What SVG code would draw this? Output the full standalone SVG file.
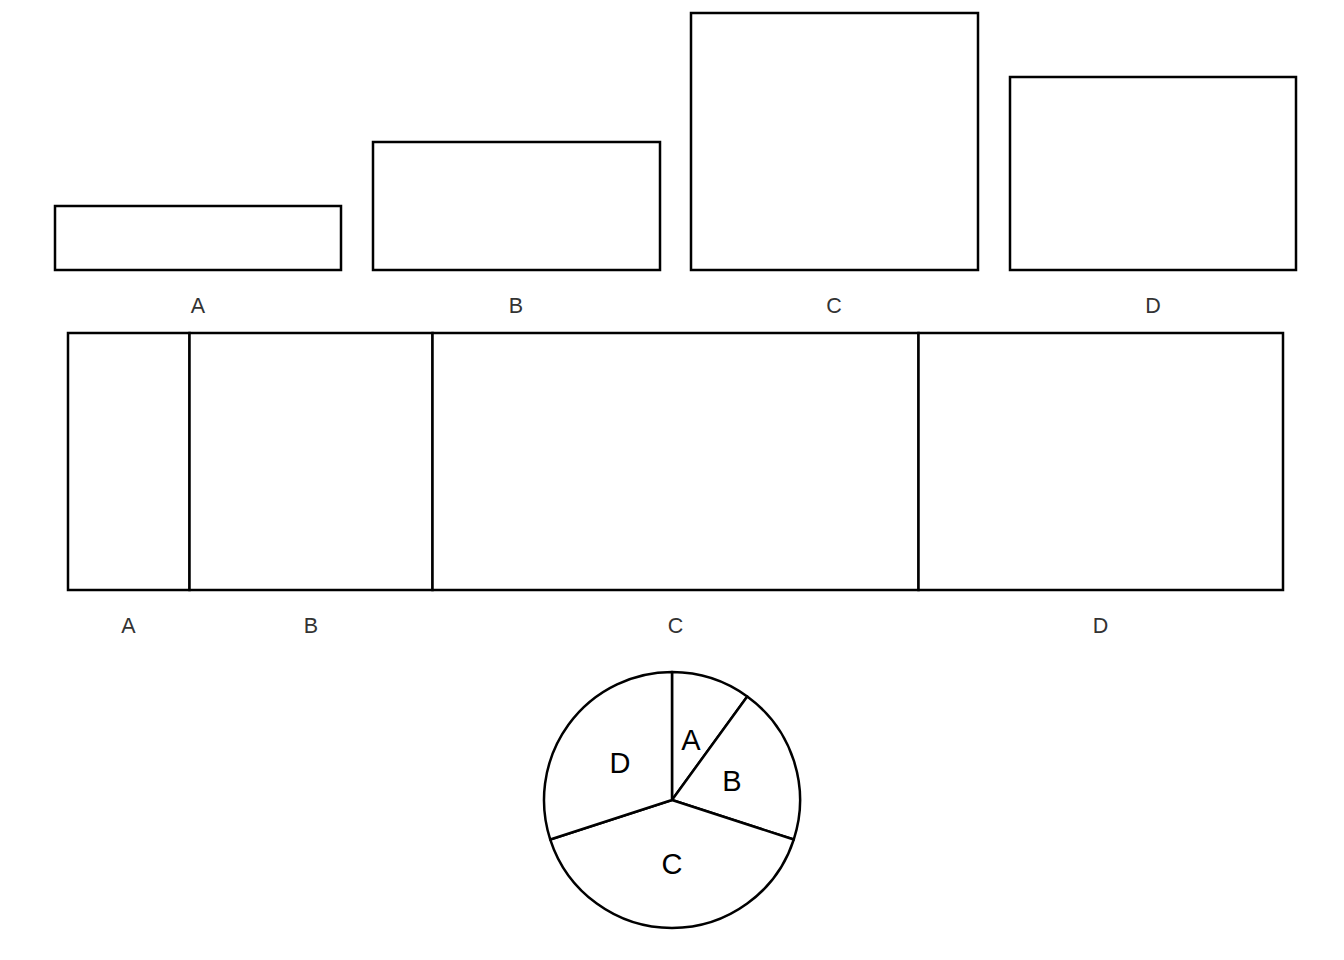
<svg xmlns="http://www.w3.org/2000/svg" width="1344" height="960" viewBox="0 0 1344 960">
<style>
.bar{fill:#fff;stroke:#000;stroke-width:2.5}
.lbl{font-family:"Liberation Sans",Arial,sans-serif;font-size:21.5px;fill:#333;text-anchor:middle}
.plbl{font-family:"Liberation Sans",Arial,sans-serif;font-size:29px;fill:#000;text-anchor:middle}
.sl{fill:#fff;stroke:#000;stroke-width:2.5;stroke-linejoin:round}
</style>
<rect width="1344" height="960" fill="#fff"/>
<g id="bar-chart">
<g id="bar-A"><rect class="bar" x="55" y="206" width="286" height="64"/><text class="lbl" x="198" y="313">A</text></g>
<g id="bar-B"><rect class="bar" x="373" y="142" width="287" height="128"/><text class="lbl" x="516" y="313">B</text></g>
<g id="bar-C"><rect class="bar" x="691" y="13" width="287" height="257"/><text class="lbl" x="834" y="313">C</text></g>
<g id="bar-D"><rect class="bar" x="1010" y="77" width="286" height="193"/><text class="lbl" x="1153" y="313">D</text></g>
</g>
<g id="stacked-bar">
<g id="stack-A"><rect class="bar" x="68" y="333" width="121.5" height="257"/><text class="lbl" x="128.5" y="633">A</text></g>
<g id="stack-B"><rect class="bar" x="189.5" y="333" width="243" height="257"/><text class="lbl" x="311" y="633">B</text></g>
<g id="stack-C"><rect class="bar" x="432.5" y="333" width="486" height="257"/><text class="lbl" x="675.5" y="633">C</text></g>
<g id="stack-D"><rect class="bar" x="918.5" y="333" width="364.5" height="257"/><text class="lbl" x="1100.5" y="633">D</text></g>
</g>
<g id="pie">
<g id="slice-A"><path class="sl" d="M672,800 L672,672 A128,128 0 0 1 747.24,696.45 Z"/><text class="plbl" x="691" y="750">A</text></g>
<g id="slice-B"><path class="sl" d="M672,800 L747.24,696.45 A128,128 0 0 1 793.74,839.55 Z"/><text class="plbl" x="732" y="791">B</text></g>
<g id="slice-C"><path class="sl" d="M672,800 L793.74,839.55 A128,128 0 0 1 550.26,839.55 Z"/><text class="plbl" x="672" y="874">C</text></g>
<g id="slice-D"><path class="sl" d="M672,800 L550.26,839.55 A128,128 0 0 1 672,672 Z"/><text class="plbl" x="620" y="773">D</text></g>
</g>
</svg>
